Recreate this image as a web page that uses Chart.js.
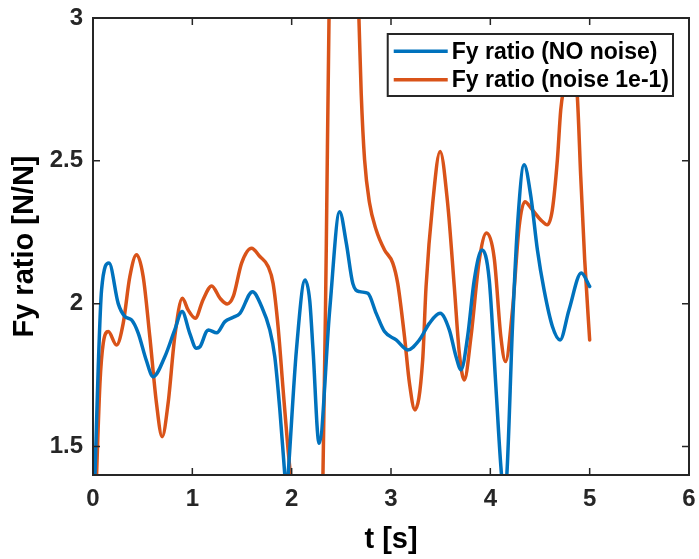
<!DOCTYPE html>
<html>
<head>
<meta charset="utf-8">
<script src="https://cdn.jsdelivr.net/npm/chart.js@4/dist/chart.umd.min.js"></script>
<style>
  html, body { margin: 0; padding: 0; background: #ffffff; }
  #wrap { width: 699px; height: 559px; }
</style>
</head>
<body>
<div id="wrap"><canvas id="c" width="699" height="559"></canvas></div>
<script>
// Fy ratio over time, with and without measurement noise
const seriesNames = ['Fy ratio (NO noise)', 'Fy ratio (noise 1e-1)'];

const tClean = [0.000, 0.020, 0.053, 0.086, 0.161, 0.254, 0.321, 0.388, 0.455, 0.538,
  0.605, 0.723, 0.823, 0.897, 0.974, 1.040, 1.077, 1.141, 1.161, 1.245,
  1.328, 1.412, 1.479, 1.606, 1.697, 1.780, 1.830, 1.881, 1.931, 1.948,
  1.964, 2.048, 2.135, 2.182, 2.215, 2.276, 2.383, 2.483, 2.550, 2.616,
  2.684, 2.767, 2.851, 2.935, 3.052, 3.169, 3.286, 3.386, 3.494, 3.587,
  3.655, 3.705, 3.771, 3.838, 3.916, 3.989, 4.056, 4.106, 4.136, 4.166,
  4.223, 4.273, 4.340, 4.408, 4.474, 4.541, 4.625, 4.702, 4.792, 4.916, 5.000];
const fyClean = [1.20, 1.40, 1.78, 2.047, 2.142, 2.000, 1.955, 1.943, 1.897, 1.800,
  1.744, 1.814, 1.908, 1.972, 1.896, 1.844, 1.849, 1.902, 1.908, 1.898,
  1.937, 1.952, 1.966, 2.042, 1.990, 1.908, 1.814, 1.628, 1.400, 1.330,
  1.400, 1.838, 2.083, 2.010, 1.838, 1.511, 1.978, 2.322, 2.212, 2.070,
  2.042, 2.036, 1.966, 1.902, 1.873, 1.838, 1.873, 1.931, 1.966, 1.908,
  1.814, 1.768, 1.884, 2.083, 2.188, 2.083, 1.709, 1.430, 1.330, 1.400,
  1.920, 2.270, 2.486, 2.375, 2.188, 2.048, 1.920, 1.873, 1.978, 2.107, 2.060];

const tNoisy = [0.000, 0.036, 0.070, 0.103, 0.154, 0.237, 0.304, 0.371, 0.438, 0.505,
  0.572, 0.639, 0.696, 0.756, 0.823, 0.900, 0.957, 1.030, 1.107, 1.195,
  1.278, 1.351, 1.412, 1.496, 1.596, 1.680, 1.763, 1.813, 1.863, 1.914,
  1.964, 1.988, 2.150, 2.315, 2.349, 2.376, 2.520, 2.677, 2.700, 2.734,
  2.784, 2.851, 2.935, 3.018, 3.068, 3.136, 3.186, 3.241, 3.319, 3.353,
  3.420, 3.494, 3.570, 3.637, 3.688, 3.738, 3.805, 3.889, 3.962, 4.039,
  4.106, 4.153, 4.223, 4.290, 4.347, 4.424, 4.508, 4.574, 4.624, 4.675,
  4.709, 4.742, 4.810, 4.875, 4.910, 4.950, 5.000];
const fyNoisy = [1.00, 1.40, 1.721, 1.861, 1.902, 1.855, 1.931, 2.095, 2.171, 2.095,
  1.884, 1.651, 1.534, 1.651, 1.884, 2.019, 1.978, 1.949, 2.013, 2.062,
  2.019, 1.999, 2.025, 2.142, 2.194, 2.165, 2.130, 2.071, 1.920, 1.698,
  1.487, 1.400, 0.700, 1.400, 2.212, 3.000, 4.600, 3.000, 2.737, 2.504,
  2.352, 2.258, 2.188, 2.142, 2.070, 1.884, 1.721, 1.628, 1.803, 2.060,
  2.352, 2.533, 2.352, 2.060, 1.826, 1.733, 1.884, 2.153, 2.247, 2.160,
  1.884, 1.797, 1.978, 2.270, 2.357, 2.328, 2.293, 2.276, 2.328, 2.504,
  2.679, 2.760, 2.880, 2.730, 2.445, 2.153, 1.873];

const xTicks = [0, 1, 2, 3, 4, 5, 6];
const yTicks = [1.5, 2, 2.5, 3];

const AXIS = '#262626';
const FONT = "'Liberation Sans', Arial, Helvetica, sans-serif";
const COLORS = ['#0072BD', '#D95319'];

function pts(ts, vs) { return ts.map((t, i) => ({ x: t, y: vs[i] })); }

// Box axes with inward ticks on all four sides, plus an in-plot legend
const frame = {
  id: 'frame',
  afterDraw(chart) {
    const { ctx, chartArea: a, scales } = chart;
    const tl = 7;
    ctx.save();
    ctx.strokeStyle = AXIS;
    ctx.lineWidth = 2;
    ctx.strokeRect(a.left, a.top, a.right - a.left, a.bottom - a.top);
    ctx.lineWidth = 1.5;
    ctx.beginPath();
    xTicks.forEach(v => {
      const px = scales.x.getPixelForValue(v);
      ctx.moveTo(px, a.bottom); ctx.lineTo(px, a.bottom - tl);
      ctx.moveTo(px, a.top); ctx.lineTo(px, a.top + tl);
    });
    yTicks.forEach(v => {
      const py = scales.y.getPixelForValue(v);
      ctx.moveTo(a.left, py); ctx.lineTo(a.left + tl, py);
      ctx.moveTo(a.right, py); ctx.lineTo(a.right - tl, py);
    });
    ctx.stroke();

    // legend
    ctx.font = 'bold 23px ' + FONT;
    const w = Math.max(...chart.data.datasets.map(d => ctx.measureText(d.label).width));
    const lineLen = 54, gap = 4, padL = 6, padR = 4, rowH = 28.5;
    const bw = padL + lineLen + gap + w + padR;
    const bh = rowH * 2 + 5;
    const bx = a.right - 16 - bw;
    const by = a.top + 16;
    ctx.fillStyle = '#ffffff';
    ctx.fillRect(bx, by, bw, bh);
    ctx.lineWidth = 2;
    ctx.strokeStyle = AXIS;
    ctx.strokeRect(bx, by, bw, bh);
    chart.data.datasets.forEach((d, i) => {
      const cy = by + 3 + rowH * (i + 0.5);
      ctx.strokeStyle = d.borderColor;
      ctx.lineWidth = 3.5;
      ctx.beginPath();
      ctx.moveTo(bx + padL, cy); ctx.lineTo(bx + padL + lineLen, cy);
      ctx.stroke();
      ctx.fillStyle = '#000000';
      ctx.textBaseline = 'middle';
      ctx.textAlign = 'left';
      ctx.fillText(d.label, bx + padL + lineLen + gap, cy + 1);
    });
    ctx.restore();
  }
};

new Chart(document.getElementById('c'), {
  type: 'line',
  data: {
    datasets: [
      { label: seriesNames[0], data: pts(tClean, fyClean), borderColor: COLORS[0] },
      { label: seriesNames[1], data: pts(tNoisy, fyNoisy), borderColor: COLORS[1] }
    ].map(d => Object.assign(d, {
      borderWidth: 3.5, pointRadius: 0, fill: false,
      cubicInterpolationMode: 'monotone', borderCapStyle: 'round', borderJoinStyle: 'round'
    }))
  },
  options: {
    responsive: false,
    animation: false,
    layout: { padding: { top: 18, right: 10, left: 0, bottom: 0 } },
    plugins: { legend: { display: false }, tooltip: { enabled: false } },
    scales: {
      x: {
        type: 'linear', min: 0, max: 6,
        afterBuildTicks: s => { s.ticks = xTicks.map(v => ({ value: v })); },
        afterFit: s => { s.height = 84; s.paddingLeft = 0; s.paddingRight = 0; },
        grid: { display: false, drawTicks: false },
        border: { display: false },
        ticks: { color: AXIS, padding: 10, font: { family: FONT, size: 24, weight: 'bold' },
                 callback: v => String(v) },
        title: { display: true, text: 't [s]', color: '#000000', padding: { top: 0, bottom: 2 },
                 font: { family: FONT, size: 29, weight: 'bold' } }
      },
      y: {
        type: 'linear', min: 1.4, max: 3,
        afterBuildTicks: s => { s.ticks = yTicks.map(v => ({ value: v })); },
        afterFit: s => { s.width = 93; s.paddingTop = 0; s.paddingBottom = 0; },
        grid: { display: false, drawTicks: false },
        border: { display: false },
        ticks: { color: AXIS, padding: 10, font: { family: FONT, size: 24, weight: 'bold' },
                 callback: v => String(v) },
        title: { display: true, text: 'Fy ratio [N/N]', color: '#000000', padding: { top: 8, bottom: 0 },
                 font: { family: FONT, size: 29, weight: 'bold' } }
      }
    }
  },
  plugins: [frame]
});
</script>
</body>
</html>
